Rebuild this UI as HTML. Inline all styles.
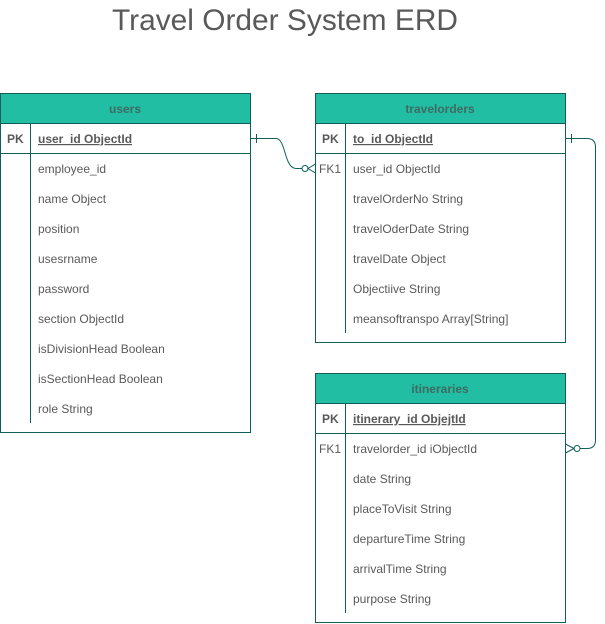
<!DOCTYPE html>
<html><head><meta charset="utf-8"><style>
html,body{margin:0;padding:0;background:#fff;}
svg{display:block;}
text{font-family:"Liberation Sans",Arial,sans-serif;}
.t{font-size:12px;fill:#595959;}
.k{font-size:12px;fill:#595959;}
.h{font-size:12px;fill:#3f6b63;font-weight:bold;}
</style></head><body>
<svg width="605" height="624" viewBox="0 0 605 624" xmlns="http://www.w3.org/2000/svg">
<text x="285" y="30" text-anchor="middle" font-size="30" fill="#595959" textLength="346" lengthAdjust="spacingAndGlyphs">Travel Order System ERD</text>

<g stroke="#0f5e57" stroke-width="1" fill="none">
<rect x="0.5" y="93.5" width="250" height="339" fill="#fff"/>
<rect x="0.5" y="93.5" width="250" height="30" fill="#21bea4"/>
<line x1="0.5" y1="153.5" x2="250.5" y2="153.5"/>
<line x1="30.5" y1="123.5" x2="30.5" y2="423"/>
<rect x="315.5" y="93.5" width="250" height="249" fill="#fff"/>
<rect x="315.5" y="93.5" width="250" height="30" fill="#21bea4"/>
<line x1="315.5" y1="153.5" x2="565.5" y2="153.5"/>
<line x1="345.5" y1="123.5" x2="345.5" y2="333"/>
<rect x="315.5" y="373.5" width="250" height="249" fill="#fff"/>
<rect x="315.5" y="373.5" width="250" height="30" fill="#21bea4"/>
<line x1="315.5" y1="433.5" x2="565.5" y2="433.5"/>
<line x1="345.5" y1="403.5" x2="345.5" y2="613"/>

<path d="M250.5 138.5 H276 C286 138.5 284 168.5 296 168.5 H302"/>
<line x1="256.5" y1="134" x2="256.5" y2="143"/>
<circle cx="305" cy="168.5" r="3"/>
<path d="M315.5 164 L308 168.5 L315.5 173"/>
<path d="M565.5 138.5 H587 Q595.5 138.5 595.5 147 V440 Q595.5 448.5 587 448.5 H580"/>
<line x1="571.5" y1="134" x2="571.5" y2="143"/>
<circle cx="577" cy="448.5" r="3"/>
<path d="M565.5 444 L574 448.5 L565.5 453"/>
</g>

<text class="h" x="125" y="113" text-anchor="middle">users</text>
<text class="h" x="440" y="113" text-anchor="middle">travelorders</text>
<text class="h" x="440" y="393" text-anchor="middle">itineraries</text>

<text x="7" y="143" class="k" font-weight="bold">PK</text>
<text x="322" y="143" class="k" font-weight="bold">PK</text>
<text x="322" y="423" class="k" font-weight="bold">PK</text>
<text x="319" y="173" class="k">FK1</text>
<text x="319" y="453" class="k">FK1</text>

<text x="38" y="143" class="t" font-weight="bold" text-decoration="underline">user_id ObjectId</text>
<text x="38" y="173" class="t">employee_id</text>
<text x="38" y="203" class="t">name Object</text>
<text x="38" y="233" class="t">position</text>
<text x="38" y="263" class="t">usesrname</text>
<text x="38" y="293" class="t">password</text>
<text x="38" y="323" class="t">section ObjectId</text>
<text x="38" y="353" class="t">isDivisionHead Boolean</text>
<text x="38" y="383" class="t">isSectionHead Boolean</text>
<text x="38" y="413" class="t">role String</text>

<text x="353" y="143" class="t" font-weight="bold" text-decoration="underline">to_id ObjectId</text>
<text x="353" y="173" class="t">user_id ObjectId</text>
<text x="353" y="203" class="t">travelOrderNo String</text>
<text x="353" y="233" class="t">travelOderDate String</text>
<text x="353" y="263" class="t">travelDate Object</text>
<text x="353" y="293" class="t">Objectiive String</text>
<text x="353" y="323" class="t">meansoftranspo Array[String]</text>

<text x="353" y="423" class="t" font-weight="bold" text-decoration="underline">itinerary_id ObjejtId</text>
<text x="353" y="453" class="t">travelorder_id iObjectId</text>
<text x="353" y="483" class="t">date String</text>
<text x="353" y="513" class="t">placeToVisit String</text>
<text x="353" y="543" class="t">departureTime String</text>
<text x="353" y="573" class="t">arrivalTime String</text>
<text x="353" y="603" class="t">purpose String</text>
</svg>
</body></html>
